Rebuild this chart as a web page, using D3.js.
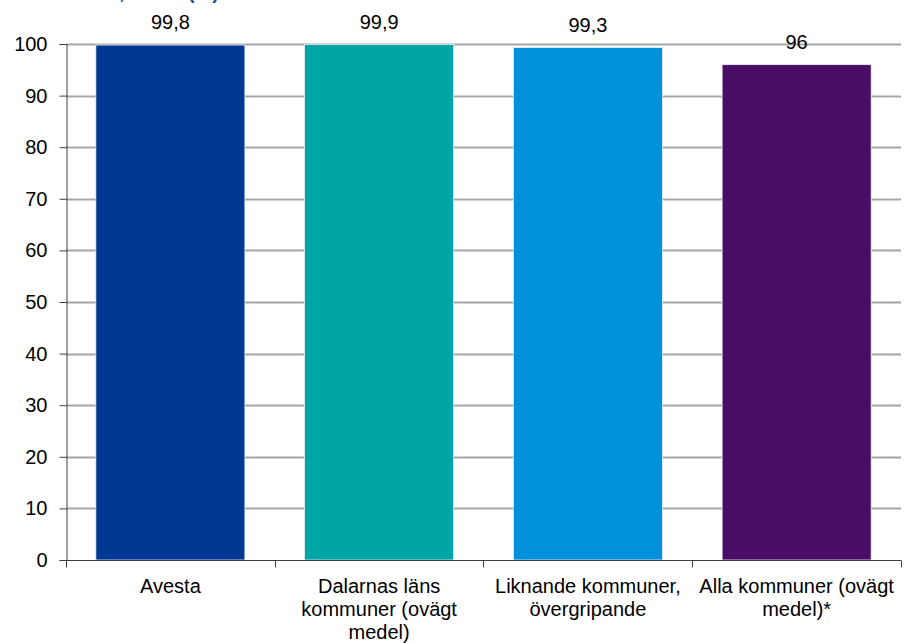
<!DOCTYPE html>
<html><head><meta charset="utf-8">
<script src="https://cdn.jsdelivr.net/npm/d3@7"></script>
<style>body{margin:0;background:#fff;} svg{display:block;font-family:Arial,"Liberation Sans",sans-serif;}</style>
</head><body>
<svg id="c" width="905" height="643"></svg>
<script>
const categories = ["Avesta", "Dalarnas läns kommuner (ovägt medel)", "Liknande kommuner, övergripande", "Alla kommuner (ovägt medel)*"];
const categoryLines = [["Avesta"], ["Dalarnas läns", "kommuner (ovägt", "medel)"], ["Liknande kommuner,", "övergripande"], ["Alla kommuner (ovägt", "medel)*"]];
const values = [99.8, 99.9, 99.3, 96];
const valueLabels = ["99,8", "99,9", "99,3", "96"];
const colors = ["#003893", "#00A5A5", "#0091DA", "#4A0D66"];
const yTicks = [0, 10, 20, 30, 40, 50, 60, 70, 80, 90, 100];
const title = "Resultat, andel (%)";

const svg = d3.select("#c");
const FONT = "Arial, 'Liberation Sans', sans-serif";
const m = {left: 66, right: 4, top: 44, bottom: 83};
const W = 905, H = 643;
const x = d3.scaleBand().domain(categories).range([m.left, W - m.right]).paddingInner(0.286).paddingOuter(0.143);
const y = d3.scaleLinear().domain([0, 100]).range([H - m.bottom, m.top]);

// title (cut off at top edge in the reference)
svg.append("text").attr("x", 219).attr("y", -1.5).attr("text-anchor", "end")
  .attr("fill", "#1F4E9A").attr("font-weight", "bold").attr("font-size", 20).text(title);

// gridlines
svg.append("g").selectAll("line").data(yTicks.filter(d => d > 0)).join("line")
  .attr("x1", m.left).attr("x2", W - m.right)
  .attr("y1", d => Math.round(y(d)) + 0.5).attr("y2", d => Math.round(y(d)) + 0.5)
  .attr("stroke", "#A6A6A6").attr("stroke-width", 2);

// bars
svg.append("g").selectAll("rect").data(values).join("rect")
  .attr("x", (d, i) => x(categories[i]))
  .attr("width", x.bandwidth())
  .attr("y", d => y(d))
  .attr("height", d => y(0) - y(d))
  .attr("fill", (d, i) => colors[i])
  .attr("stroke", "#e8eef5").attr("stroke-width", 0.8);

// value labels
svg.append("g").selectAll("text").data(values).join("text")
  .attr("x", (d, i) => x(categories[i]) + x.bandwidth() / 2)
  .attr("y", d => y(d) - 16)
  .attr("text-anchor", "middle").attr("font-size", 20).attr("fill", "#000")
  .text((d, i) => valueLabels[i]);

// y axis
const ya = svg.append("g").attr("transform", `translate(${m.left + 0.5},0)`)
  .call(d3.axisLeft(y).tickValues(yTicks).tickSize(7).tickPadding(12).tickFormat(d3.format("d")));
ya.select(".domain").attr("stroke", "#404040");
ya.selectAll(".tick line").attr("stroke", "#404040");
ya.selectAll("text").attr("font-size", 20).attr("fill", "#000").attr("font-family", FONT);

// x axis
const xa = svg.append("g").attr("transform", `translate(0,${y(0) + 0.5})`);
xa.append("line").attr("x1", m.left).attr("x2", W - m.right).attr("stroke", "#404040");
const bounds = categories.map(c => x(c) - (x.step() - x.bandwidth()) / 2);
bounds.push(W - m.right);
xa.selectAll("line.t").data(bounds).join("line").attr("class", "t")
  .attr("x1", d => Math.round(d) + 0.5).attr("x2", d => Math.round(d) + 0.5)
  .attr("y1", 0).attr("y2", 7).attr("stroke", "#404040");
const lbl = xa.selectAll("text").data(categories).join("text")
  .attr("text-anchor", "middle").attr("font-size", 20).attr("fill", "#000")
  .attr("x", d => x(d) + x.bandwidth() / 2).attr("y", 32);
lbl.each(function(d, i) {
  d3.select(this).selectAll("tspan").data(categoryLines[i]).join("tspan")
    .attr("x", x(d) + x.bandwidth() / 2).attr("dy", (t, j) => j === 0 ? 0 : 23).text(t => t);
});
</script>
</body></html>
